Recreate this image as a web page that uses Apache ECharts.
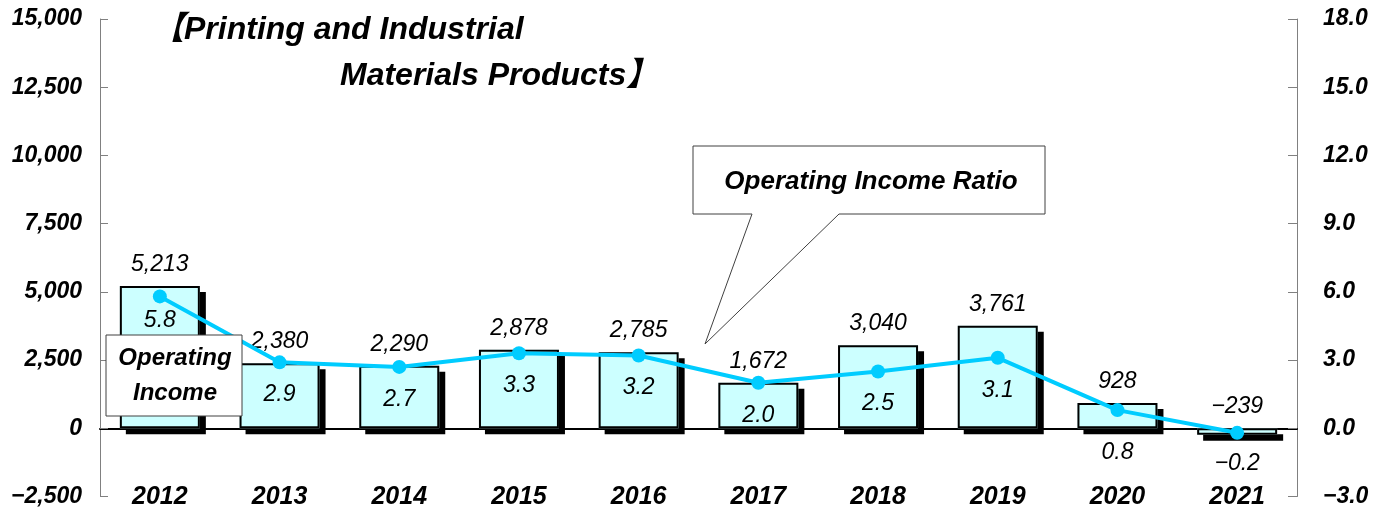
<!DOCTYPE html>
<html>
<head>
<meta charset="utf-8">
<script src="https://cdn.jsdelivr.net/npm/echarts@6/dist/echarts.min.js"></script>
<style>
  html, body { margin: 0; padding: 0; background: #fff; }
  #chart { width: 1382px; height: 513px; }
</style>
</head>
<body>
<div id="chart"></div>
<script>
const years = ['2012', '2013', '2014', '2015', '2016', '2017', '2018', '2019', '2020', '2021']
// operating income (left axis)
const operatingIncome = [5213, 2380, 2290, 2878, 2785, 1672, 3040, 3761, 928, -239]
// operating income ratio, % (right axis)
const incomeRatio = [5.8, 2.9, 2.7, 3.3, 3.2, 2.0, 2.5, 3.1, 0.8, -0.2]
// distance of each ratio label below its point
const ratioLabelGap = [6, 14, 14, 14, 14, 14, 14, 14, 24, 12]

const FONT = "'Liberation Sans', 'Noto Sans CJK JP', sans-serif"
const MINUS = '\u2212'

function fmtInt(v) {
  const s = Math.abs(v).toLocaleString('en-US')
  return v < 0 ? MINUS + s : s
}
function fmtDec(v) {
  const s = Math.abs(v).toFixed(1)
  return v < 0 ? MINUS + s : s
}

const labelFont = {
  color: '#000',
  fontFamily: FONT,
  fontSize: 23,
  fontStyle: 'italic',
}
const axisFont = {
  color: '#000',
  fontFamily: FONT,
  fontSize: 23,
  fontWeight: 'bold',
  fontStyle: 'italic',
}

const myChart = echarts.init(document.getElementById('chart'))
myChart.setOption({
  animation: false,
  grid: {
    left: 100,
    right: 85,
    top: 19,
    bottom: 16.5,
    containLabel: false,
  },
  xAxis: [
    {
      type: 'category',
      data: years,
      axisLine: {
        onZero: true,
        lineStyle: { color: '#000', width: 2 },
      },
      axisTick: {
        inside: true,
        length: 6,
        lineStyle: { color: '#808080' },
      },
      axisLabel: { show: false },
    },
    {
      type: 'category',
      data: years,
      position: 'bottom',
      offset: -20,
      axisLine: { show: false },
      axisTick: { show: false },
      axisLabel: Object.assign({}, axisFont, { fontSize: 25, margin: 8 }),
    },
  ],
  yAxis: [
    {
      type: 'value',
      min: -2500,
      max: 15000,
      interval: 2500,
      axisLine: { show: true, lineStyle: { color: '#808080' } },
      axisTick: { show: true, inside: true, length: 8, lineStyle: { color: '#808080' } },
      splitLine: { show: false },
      axisLabel: Object.assign({}, axisFont, { margin: 18, formatter: fmtInt }),
    },
    {
      type: 'value',
      min: -3,
      max: 18,
      interval: 3,
      axisLine: { show: true, lineStyle: { color: '#808080' } },
      axisTick: { show: true, inside: true, length: 9, lineStyle: { color: '#808080' } },
      splitLine: { show: false },
      axisLabel: Object.assign({}, axisFont, { margin: 26, formatter: fmtDec }),
    },
  ],
  series: [
    {
      // filled bars with the black drop shadow
      name: 'Operating Income',
      type: 'bar',
      xAxisIndex: 0,
      yAxisIndex: 0,
      barWidth: 80,
      barGap: '-100%',
      data: operatingIncome,
      itemStyle: {
        color: '#ccffff',
        shadowColor: '#000',
        shadowBlur: 0,
        shadowOffsetX: 6,
        shadowOffsetY: 6,
      },
      label: Object.assign({}, labelFont, {
        show: true,
        position: 'top',
        distance: 10,
        formatter: p => fmtInt(p.value),
      }),
    },
    {
      // outline drawn over the fill, without shadow
      name: 'Operating Income outline',
      type: 'bar',
      xAxisIndex: 0,
      yAxisIndex: 0,
      barWidth: 80,
      barGap: '-100%',
      data: operatingIncome,
      itemStyle: {
        color: 'rgba(0,0,0,0)',
        borderColor: '#000',
        borderWidth: 2,
      },
    },
    {
      name: 'Operating Income Ratio',
      type: 'line',
      xAxisIndex: 0,
      yAxisIndex: 1,
      data: incomeRatio.map((v, i) => ({
        value: v,
        label: { distance: ratioLabelGap[i] },
      })),
      z: 5,
      symbol: 'circle',
      symbolSize: 14,
      lineStyle: { color: '#00ccff', width: 4 },
      itemStyle: { color: '#00ccff' },
      label: Object.assign({}, labelFont, {
        show: true,
        position: 'bottom',
        formatter: p => fmtDec(p.value),
      }),
    },
  ],
  graphic: [
    {
      type: 'text',
      z: 100,
      left: 152,
      top: 14,
      style: {
        text: '【Printing and Industrial',
        fill: '#000',
        font: 'italic bold 32px ' + FONT,
      },
    },
    {
      type: 'text',
      z: 100,
      left: 340,
      top: 60,
      style: {
        text: 'Materials Products】',
        fill: '#000',
        font: 'italic bold 32px ' + FONT,
      },
    },
    // callout for the bars
    {
      type: 'rect',
      z: 100,
      shape: { x: 106, y: 335, width: 136, height: 81 },
      style: { fill: '#fff', stroke: '#404040', lineWidth: 1 },
    },
    {
      type: 'text',
      z: 101,
      x: 175,
      y: 376,
      style: {
        text: 'Operating\nIncome',
        align: 'center',
        verticalAlign: 'middle',
        lineHeight: 35,
        fill: '#000',
        font: 'italic bold 24px ' + FONT,
      },
    },
    // callout for the ratio line
    {
      type: 'polygon',
      z: 100,
      shape: {
        points: [[693, 146], [1045, 146], [1045, 214], [839, 214], [705, 344], [752, 214], [693, 214]],
      },
      style: { fill: '#fff', stroke: '#404040', lineWidth: 1 },
    },
    {
      type: 'text',
      z: 101,
      x: 871,
      y: 182,
      style: {
        text: 'Operating Income Ratio',
        align: 'center',
        verticalAlign: 'middle',
        fill: '#000',
        font: 'italic bold 26px ' + FONT,
      },
    },
  ],
})
window.addEventListener('resize', () => {
  myChart.resize()
})
</script>
</body>
</html>
